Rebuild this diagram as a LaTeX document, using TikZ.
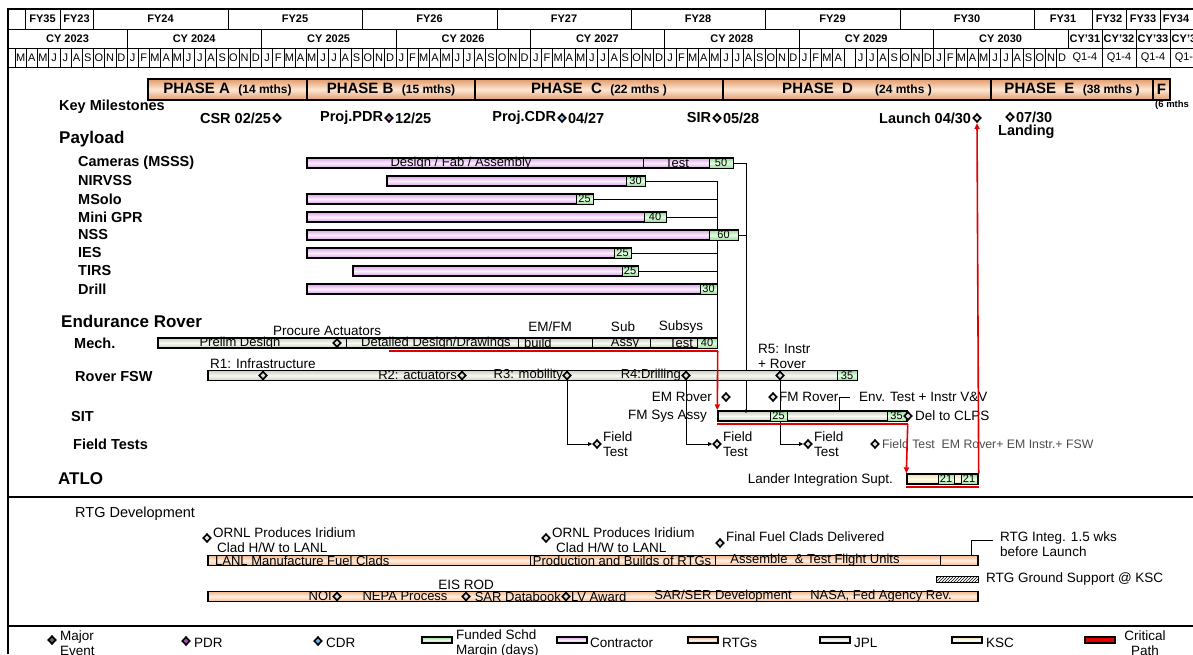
\documentclass[tikz,border=0pt]{standalone}
\usepackage{fontspec}
\setmainfont{Liberation Sans}
\usepackage{tikz}
\usetikzlibrary{arrows.meta,backgrounds,patterns,positioning,shapes.geometric}
\definecolor{lavedge}{HTML}{D9A0E8}
\definecolor{lavmid}{HTML}{FBF0FD}
\definecolor{grnedge}{HTML}{8EE08E}
\definecolor{grnmid}{HTML}{EAFBEA}
\definecolor{jpledge}{HTML}{C8CFC0}
\definecolor{jplmid}{HTML}{F8F9F3}
\definecolor{rtgedge}{HTML}{F2B88E}
\definecolor{rtgmid}{HTML}{FFEFE2}
\definecolor{kscedge}{HTML}{EEE0A4}
\definecolor{kscmid}{HTML}{FFFDF0}
\definecolor{phedge}{HTML}{E29A68}
\definecolor{phmid}{HTML}{FDE7D5}
\definecolor{critred}{HTML}{E00000}
\definecolor{pdrpurple}{HTML}{A848B8}
\definecolor{cdrblue}{HTML}{68B0E8}
\definecolor{msgray}{HTML}{606060}

\newcommand{\hdrfont}{\fontsize{11}{12}\selectfont\bfseries}
\newcommand{\mofont}{\fontsize{11}{12}\selectfont}
\newcommand{\lblfont}{\fontsize{14.5}{16}\selectfont\bfseries}
\newcommand{\secfont}{\fontsize{17}{19}\selectfont\bfseries}
\newcommand{\txtfont}{\fontsize{13.5}{15}\selectfont}
\newcommand{\bartxtfont}{\fontsize{13}{14}\selectfont}
\newcommand{\numfont}{\fontsize{11}{12}\selectfont}
\newcommand{\phsub}[1]{\ \ {\fontsize{12}{12}\selectfont #1}}

% one bar of the chart: name, style, x from, x to, y
\newcommand{\ganttbar}[5]{%
  \pgfmathsetmacro{\barw}{#4-#3}%
  \node[#2, minimum width=\barw pt] (#1) at ({(#3+#4)/2},#5) {};}
% green margin box: name, x from, x to, y, days
\newcommand{\mgnbox}[5]{%
  \pgfmathsetmacro{\barw}{#3-#2}%
  \node[mgn, minimum width=\barw pt] (#1) at ({(#2+#3)/2},#4) {#5};}

\tikzset{
  lavfill/.style={top color=lavedge, bottom color=lavedge, middle color=lavmid},
  grnfill/.style={top color=grnedge, bottom color=grnedge, middle color=grnmid},
  jplfill/.style={top color=jpledge, bottom color=jpledge, middle color=jplmid},
  rtgfill/.style={top color=rtgedge, bottom color=rtgedge, middle color=rtgmid},
  kscfill/.style={top color=kscedge, bottom color=kscedge, middle color=kscmid},
  gbar/.style={rectangle, draw=black, line width=1.4pt, inner sep=0pt, minimum height=10pt},
  lavbar/.style={gbar, lavfill},
  jplbar/.style={gbar, jplfill},
  rtgbar/.style={gbar, rtgfill},
  kscbar/.style={gbar, kscfill},
  mgn/.style={gbar, line width=1pt, grnfill, font=\numfont},
  phasebox/.style={rectangle, draw=black, line width=1.4pt, inner sep=0pt, minimum height=21pt,
    top color=phedge, bottom color=phedge, middle color=phmid, font=\fontsize{15}{16}\selectfont\bfseries},
  ms/.style={diamond, draw=black, line width=1.6pt, fill=gray!25, inner sep=0pt, minimum width=8pt, minimum height=8.5pt},
  hdr/.style={font=\hdrfont, inner sep=0pt},
  mo/.style={font=\mofont, inner sep=0pt},
  lbl/.style={font=\lblfont, anchor=west, inner sep=1pt},
  sec/.style={font=\secfont, anchor=west, inner sep=1pt},
  txt/.style={font=\txtfont, inner sep=1pt},
  bt/.style={font=\bartxtfont, inner sep=0pt},
  hline/.style={line width=0.6pt},
  divl/.style={line width=0.9pt},
  conn/.style={line width=0.9pt},
  crit/.style={draw=critred, line width=1.6pt},
  critarr/.style={crit, -{Triangle[length=6pt,width=5pt]}},
  ftarr/.style={conn, -{Triangle[length=4pt,width=3.5pt]}},
  swatch/.style={rectangle, draw=black, line width=1.1pt, minimum width=30pt, minimum height=6pt, inner sep=0pt},
}

\begin{document}
\begin{tikzpicture}[x=1pt,y=-1pt]
\useasboundingbox (0,0) rectangle (1193,654);
\begin{pgfonlayer}{background}
  \fill[white] (0,0) rectangle (1193,654);
\end{pgfonlayer}

% frame and header grid
\draw[line width=1.6pt] (8,654) -- (8,9) -- (1193,9);
\foreach \y in {29,48,67} \draw[hline] (8,\y) -- (1193,\y);
\foreach \xa/\xb/\t [count=\i] in {25/60/FY35,60/93/FY23,93/228/FY24,228/362/FY25,362/497/FY26,497/631/FY27,631/765/FY28,765/900/FY29,900/1034/FY30,1034/1092/FY31,1092/1126/FY32,1126/1160/FY33,1160/1192/FY34}{
  \draw[hline] (\xa,9) -- (\xa,29);
  \node[hdr] (fy\i) at ({(\xa+\xb)/2},19) {\t};
}
\foreach \xa/\xb/\t [count=\i] in {8/127/CY 2023,127/261.4/CY 2024,261.4/395.8/CY 2025,395.8/530.2/CY 2026,530.2/664.6/CY 2027,664.6/799/CY 2028,799/933.4/CY 2029,933.4/1067.8/CY 2030,1067.8/1102/CY'31,1102/1136/CY'32,1136/1170/CY'33,1170/1204/CY'34}{
  \draw[hline] (\xb,29) -- (\xb,48);
  \node[hdr] (cy\i) at ({(\xa+\xb)/2},38.5) {\t};
}
% months, Mar 2023 to Dec 2030
\foreach \m in {-10,...,83}{
  \pgfmathsetmacro{\mx}{127+11.2*\m}
  \pgfmathtruncatemacro{\k}{mod(\m+120,12)}
  \draw[hline] (\mx,48) -- (\mx,67);
  \ifnum\m=64\relax\else
    \pgfmathparse{{"J","F","M","A","M","J","J","A","S","O","N","D"}[\k]}
    \edef\mlet{\pgfmathresult}
    \node[mo] (mo\m) at (\mx+5.6,57.5) {\mlet};
  \fi
}
\foreach \xa/\xb [count=\i] in {1067.8/1102,1102/1136,1136/1170,1170/1204}{
  \draw[hline] (\xb,48) -- (\xb,67);
  \node[mo] (qt\i) at ({(\xa+\xb)/2},57.5) {Q1-4};
}

% phases
\foreach \xa/\xb/\nm/\t in {148/307/phA/{PHASE A\phsub{(14 mths)}},307/475/phB/{PHASE B\phsub{(15 mths)}},475/723/phC/{PHASE\ \ C\phsub{(22 mths )}},723/991/phD/{PHASE\ \ D\hspace{22pt}{\fontsize{12}{12}\selectfont(24 mths )}},991/1153/phE/{PHASE\ \ E\phsub{(38 mths )}},1153/1170/phF/F}{
  \pgfmathsetmacro{\bw}{\xb-\xa}
  \node[phasebox, minimum width=\bw pt] (\nm) at ({(\xa+\xb)/2},89.5) {\t};
}
\node[anchor=west, inner sep=0pt, font=\fontsize{9.5}{10}\selectfont\bfseries] (phFt) at (1155,105) {(6 mths};

% key milestones
\node[lbl] (kmlbl) at (58,107) {Key Milestones};
\node[ms] (csr) at (277,118) {};
\node[lbl, anchor=east] (csrt) at (csr.west) {CSR 02/25};
\node[ms, fill=pdrpurple!60] (pdr) at (389,118) {};
\node[lbl, anchor=east] (pdrt) at (pdr.west) {Proj.PDR};
\node[lbl] (pdrd) at (pdr.east) {12/25};
\node[ms, fill=cdrblue!70] (cdr) at (562,118) {};
\node[lbl, anchor=east] (cdrt) at (cdr.west) {Proj.CDR};
\node[lbl] (cdrd) at (cdr.east) {04/27};
\node[ms] (sir) at (717,118) {};
\node[lbl, anchor=east] (sirt) at (sir.west) {SIR};
\node[lbl] (sird) at (sir.east) {05/28};
\node[ms] (launch) at (977,118) {};
\node[lbl, anchor=east] (launcht) at (launch.west) {Launch 04/30};
\node[ms] (land) at (1010,117) {};
\node[lbl] (landd) at (land.east) {07/30};
\node[lbl] (landt) at (997,132) {Landing};

% payload
\node[sec] (pllbl) at (58,139) {Payload};
\foreach \y/\t [count=\i] in {163/Cameras (MSSS),181/NIRVSS,199/MSolo,217/Mini GPR,235/NSS,253/IES,271/TIRS,289/Drill}
  \node[lbl] (pl\i) at (77,\y) {\t};
\ganttbar{cam}{lavbar}{307}{733}{163}
\draw[divl] (643,158) -- (643,168);
\node[bt] (camt1) at (461,163) {Design / Fab / Assembly};
\node[bt] (camt2) at (677,163) {Test};
\mgnbox{cam-m}{709}{733}{163}{50}
\foreach \nm/\xa/\xm/\xb/\y/\d in {nir/387/626/645/181/30,mso/307/576/593/199/25,gpr/307/644/666/217/40,nss/307/709/738/235/60,ies/307/614/631/253/25,tir/353/622/638/271/25,drl/307/700/717/289/30}{
  \ganttbar{\nm}{lavbar}{\xa}{\xb}{\y}
  \mgnbox{\nm-m}{\xm}{\xb}{\y}{\d}
}

% endurance rover
\node[sec] (erlbl) at (60,321) {Endurance Rover};
\node[lbl] (mechlbl) at (73,343) {Mech.};
\node[lbl] (fswlbl) at (74,376) {Rover FSW};
\node[lbl] (sitlbl) at (70,416) {SIT};
\node[lbl] (ftlbl) at (72,444) {Field Tests};
\node[sec] (atlolbl) at (57,479) {ATLO};

\ganttbar{mech}{jplbar}{158}{717}{343}
\foreach \x in {346,518,592,650} \draw[divl] (\x,338) -- (\x,348);
\node[bt] (mecht1) at (240,343) {Prelim Design};
\node[bt] (mecht2) at (436,343) {Detailed Design/Drawings};
\node[bt, anchor=west] (mecht3) at (524,343) {build};
\node[bt] (mecht4) at (625,343) {Assy};
\node[bt] (mecht5) at (681,343) {Test};
\mgnbox{mech-m}{697}{717}{343}{40}
\node[ms] (pact) at (337,343) {};
\node[txt, anchor=west] (pactt) at (272,331) {Procure Actuators};
\node[txt] (emfm) at (550,327) {EM/FM};
\node[txt] (subt) at (623,327) {Sub};
\node[txt] (subsys) at (681,327) {Subsys};

\ganttbar{fsw}{jplbar}{208}{857}{375.5}
\mgnbox{fsw-m}{837}{857}{375.5}{35}
\node[ms] (r1) at (263,375.5) {};
\node[txt, anchor=west] (r1t) at (209,364) {R1: Infrastructure};
\node[ms] (r2) at (462,375.5) {};
\node[bt, anchor=east] (r2t) at (457,375.5) {R2: actuators};
\node[ms] (r3) at (567,375.5) {};
\node[bt, anchor=east] (r3t) at (563,375.5) {R3: mobility};
\node[ms] (r4) at (686,375.5) {};
\node[bt, anchor=east] (r4t) at (681,375.5) {R4:Drilling};
\node[ms] (r5) at (780,375.5) {};
\node[txt, anchor=west, align=left] (r5t) at (757,356) {R5: Instr\\+ Rover};

\node[ms] (emr) at (726,397) {};
\node[txt, anchor=east] (emrt) at (713,397) {EM Rover};
\node[ms] (fmr) at (773,397) {};
\node[txt, anchor=west] (fmrt) at (778,397) {FM Rover};
\coordinate (envl) at (850,397);
\node[txt, right=8pt of envl] (envt) {Env. Test + Instr V\&V};

\ganttbar{sit}{jplbar}{718}{907}{416}
\mgnbox{sit-m1}{770}{787}{416}{25}
\mgnbox{sit-m2}{887}{906}{416}{35}
\node[ms] (sitend) at (908,416) {};
\node[txt, anchor=west] (clps) at (914,416) {Del to CLPS};
\node[txt, anchor=east] (fmsys) at (708,416) {FM Sys Assy};
\coordinate (sitdot) at (746,411);

% field tests
\foreach \nm/\x in {ft1/597,ft2/717,ft3/808}{
  \node[ms] (\nm) at (\x,444) {};
  \node[txt, anchor=west, align=left] (\nm t) at (\x+5,444.5) {Field\\Test};
}
\node[ms] (ft4) at (875,444) {};
\node[anchor=west, inner sep=1pt, text=black!70, font=\fontsize{12.3}{13}\selectfont] (ft4t) at (881,444) {Field Test\ \ EM Rover+ EM Instr.+ FSW};

% ATLO
\ganttbar{atlo}{kscbar}{907}{978}{479}
\mgnbox{atlo-m1}{938}{954}{479}{21}
\mgnbox{atlo-m2}{961}{977}{479}{21}
\node[txt, anchor=east] (lander) at (894,480) {Lander Integration Supt.};

% links behind the bars
\begin{pgfonlayer}{background}
  \draw[conn] (nir-m.east) -| (mech-m.north east);
  \foreach \nm in {mso,gpr,ies,tir} \draw[conn] (\nm-m.east) -- (\nm-m.east -| mech-m.north east);
  \draw[conn] (cam-m.east) -| (sitdot);
  \draw[conn] (nss-m.east) -- (nss-m.east -| sitdot);
  \draw[ftarr] (r3.south) |- (ft1.west);
  \draw[ftarr] (r4.south) |- (ft2.west);
  \draw[ftarr] (r5.south) |- (ft3.west);
  \draw[conn] (sit.north -| fmrt.east) |- (envl);
\end{pgfonlayer}
\fill (sitdot) circle (1.8);

% critical path
\coordinate (mechcp) at (389,351);
\draw[crit] (mechcp) -- (mechcp -| mech.east);
\draw[critarr] (mechcp -| mech.east) -- (sit.north west);
\draw[crit] ([yshift=-2.5pt]sit.south west) -- ([yshift=-2.5pt]sit.south east);
\draw[critarr] ([yshift=-2.5pt]sit.south east) -- (atlo.north west);
\draw[crit] ([yshift=-2.5pt]atlo.south west) -- ([yshift=-2.5pt]atlo.south east);
\draw[critarr] (atlo.north east) -- (launch.south);

% RTG development
\draw[line width=1.6pt] (8,497) -- (1193,497);
\node[anchor=west, inner sep=1pt, font=\fontsize{14.5}{16}\selectfont] (rtglbl) at (74,514) {RTG Development};
\node[ms] (ornl1) at (207,538) {};
\node[txt, anchor=west, align=left] (ornl1t) at (212,540.5) {ORNL Produces Iridium\\\hspace*{4pt}Clad H/W to LANL};
\node[ms] (ornl2) at (546,538) {};
\node[txt, anchor=west, align=left] (ornl2t) at (551,540.5) {ORNL Produces Iridium\\\hspace*{4pt}Clad H/W to LANL};
\node[ms] (ffc) at (720,543) {};
\node[txt, anchor=west] (ffct) at (725,537) {Final Fuel Clads Delivered};
\ganttbar{rtg1}{rtgbar}{208}{978}{560.5}
\foreach \x in {530,715,940} \draw[divl] (\x,555.5) -- (\x,565.5);
\node[bt, anchor=west] (rtg1t1) at (215,560.5) {LANL Manufacture Fuel Clads};
\node[bt] (rtg1t2) at (622,560.5) {Production and Builds of RTGs};
\node[bt] (rtg1t3) at (815,560.5) {Assemble\ \ \& Test Flight Units};
\coordinate (rtgk) at (971,540);
\coordinate (rtgint) at (993,540);
\draw[conn] (rtg1.north -| rtgk) -- (rtgk) -- (rtgint);
\node[txt, anchor=west, align=left] (rtgintt) at (999,544.5) {RTG Integ. 1.5 wks\\before Launch};
\draw[line width=1pt, pattern=north east lines] (936,576) rectangle (978,582.5);
\node[txt, anchor=west] (gsup) at (985,579) {RTG Ground Support @ KSC};
\node[txt] (eis) at (466,585) {EIS ROD};
\ganttbar{rtg2}{rtgbar}{208}{978}{596.5}
\node[ms] (noi) at (337,596.5) {};
\node[bt, anchor=east] (noit) at (332,596.5) {NOI};
\node[ms] (nepa) at (466,596.5) {};
\node[bt] (nepat) at (405,596.5) {NEPA Process};
\node[ms] (sar) at (566,596.5) {};
\node[bt, anchor=east] (sart) at (561,596.5) {SAR Databook};
\node[bt, anchor=west] (lvt) at (571,596.5) {LV Award};
\node[bt] (sert) at (723,596.5) {SAR/SER Development};
\node[bt] (nasat) at (881,596.5) {NASA, Fed Agency Rev.};

% legend
\draw[line width=1.6pt] (8,626) -- (1193,626);
\node[ms, fill=msgray] (lgmaj) at (52,640) {};
\node[txt, anchor=west, align=left] (lgmajt) at (59,643.5) {Major\\Event};
\node[ms, fill=pdrpurple] (lgpdr) at (186,641) {};
\node[txt, anchor=west] (lgpdrt) at (193,643) {PDR};
\node[ms, fill=cdrblue] (lgcdr) at (318,641) {};
\node[txt, anchor=west] (lgcdrt) at (325,643) {CDR};
\node[swatch, grnfill] (lgmgn) at (437,640) {};
\node[txt, anchor=west, align=left] (lgmgnt) at (455,643.5) {Funded Schd\\Margin (days)};
\node[swatch, lavfill] (lglav) at (572,640) {};
\node[txt, anchor=west] (lglavt) at (589,643) {Contractor};
\node[swatch, rtgfill] (lgrtg) at (703,640) {};
\node[txt, anchor=west] (lgrtgt) at (721,643) {RTGs};
\node[swatch, jplfill] (lgjpl) at (835,640) {};
\node[txt, anchor=west] (lgjplt) at (853,643) {JPL};
\node[swatch, kscfill] (lgksc) at (967,640) {};
\node[txt, anchor=west] (lgksct) at (985,643) {KSC};
\node[swatch, fill=critred] (lgcrit) at (1100,640) {};
\node[txt, align=center] (lgcritt) at (1145,643.5) {Critical\\Path};
\end{tikzpicture}
\end{document}
